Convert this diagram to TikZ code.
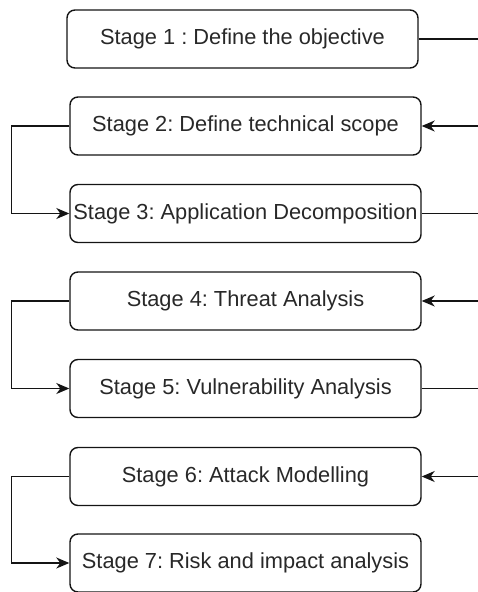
\documentclass[tikz,border=0pt]{standalone}
\usepackage{fontspec}
\setmainfont{Liberation Sans}
\usetikzlibrary{arrows.meta}
\definecolor{txt}{RGB}{40,40,40}
\definecolor{ln}{RGB}{20,20,20}
\frenchspacing
\begin{document}
\begin{tikzpicture}[x=1pt,y=-1pt,
  stagebox/.style={draw=ln, line width=1.4pt, rounded corners=8pt,
    minimum width=351pt, minimum height=58pt, inner sep=0pt,
    text=txt, font=\fontsize{21.8pt}{24pt}\selectfont},
  conn/.style={draw=ln, line width=1.4pt},
  arr/.style={conn, -{Stealth[length=13pt,width=11pt,inset=4pt]}}]
\useasboundingbox (0,0) rectangle (477,592);
\node[stagebox] (b1) at (242.5,39) {Stage 1 : Define the objective};
\node[stagebox] (b2) at (245.5,126) {Stage 2: Define technical scope};
\node[stagebox] (b3) at (245.5,213.5) {Stage 3: Application Decomposition};
\node[stagebox] (b4) at (245.5,301) {Stage 4: Threat Analysis};
\node[stagebox] (b5) at (245.5,388.5) {Stage 5: Vulnerability Analysis};
\node[stagebox] (b6) at (245.5,476.5) {Stage 6: Attack Modelling};
\node[stagebox] (b7) at (245.5,563) {Stage 7: Risk and impact analysis};
\coordinate (r1) at (478,39);
\coordinate (r2) at (478,126);
\coordinate (r3) at (478,213.5);
\coordinate (r4) at (478,301);
\coordinate (r5) at (478,388.5);
\coordinate (r6) at (478,476.5);
\draw[conn] (b1.east) -- (r1);
\draw[arr] (r2) -- (b2.east);
\draw[conn] (b3.east) -- (r3);
\draw[arr] (r4) -- (b4.east);
\draw[conn] (b5.east) -- (r5);
\draw[arr] (r6) -- (b6.east);
\draw[arr] (b2.west) -- ++(-58,0) |- (b3.west);
\draw[arr] (b4.west) -- ++(-58,0) |- (b5.west);
\draw[arr] (b6.west) -- ++(-58,0) |- (b7.west);
\end{tikzpicture}
\end{document}
